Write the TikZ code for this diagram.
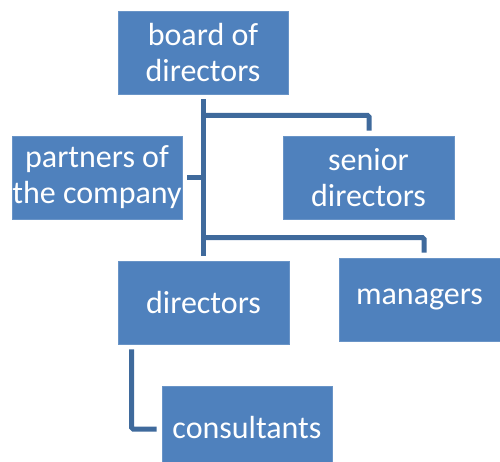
\documentclass[tikz,border=0pt]{standalone}
\usepackage{fontspec}
\setmainfont{Carlito}
\usetikzlibrary{calc}
\definecolor{boxblue}{HTML}{4F81BD}
\definecolor{linkblue}{HTML}{3F6A9C}
\tikzset{
  orgbox/.style={rectangle, fill=boxblue, draw=boxblue!85!white, line width=0.6pt, text=white, align=center,
    inner sep=0pt, font=\fontsize{32}{36}\selectfont},
  link/.style={draw=linkblue, line width=5pt, rounded corners=1.5pt}
}
\begin{document}
\begin{tikzpicture}[x=1pt,y=-1pt]
\useasboundingbox (0,0) rectangle (500,462);
\node[orgbox, minimum width=170pt, minimum height=83pt] (board) at (203,52.5) {board of\\directors};
\node[orgbox, minimum width=170pt, minimum height=83pt] (partners) at (97,177.5) {partners of\\the company};
\node[orgbox, minimum width=171pt, minimum height=83pt] (senior) at (368.5,177.5) {senior\\directors};
\node[orgbox, minimum width=171pt, minimum height=83pt] (directors) at (203.5,302.5) {directors};
\node[orgbox, minimum width=161pt, minimum height=83pt] (managers) at (419.5,299.5) {managers};
\node[orgbox, minimum width=170pt, minimum height=84pt] (consultants) at (247,428) {consultants};
\coordinate (ttop) at ($(board.south)+(0.5,5)$);
\coordinate (tbot) at ($(directors.north)+(0,-5)$);
\coordinate (jsen) at ($(ttop)+(0,16)$);
\coordinate (jman) at ($(tbot)+(0,-18)$);
\draw[link] (ttop) -- (tbot);
\draw[link] (jsen) -| ($(senior.north)+(0.5,-5)$);
\draw[link] ($(partners.east)+(5,0.5)$) -- (ttop |- {$(partners.east)+(0,0.5)$});
\draw[link] (jman) -| ($(managers.north)+(4.5,-5)$);
\draw[link] ($(directors.south west)+(14,5)$) |- ($(consultants.west)+(-5,1)$);
\end{tikzpicture}
\end{document}
